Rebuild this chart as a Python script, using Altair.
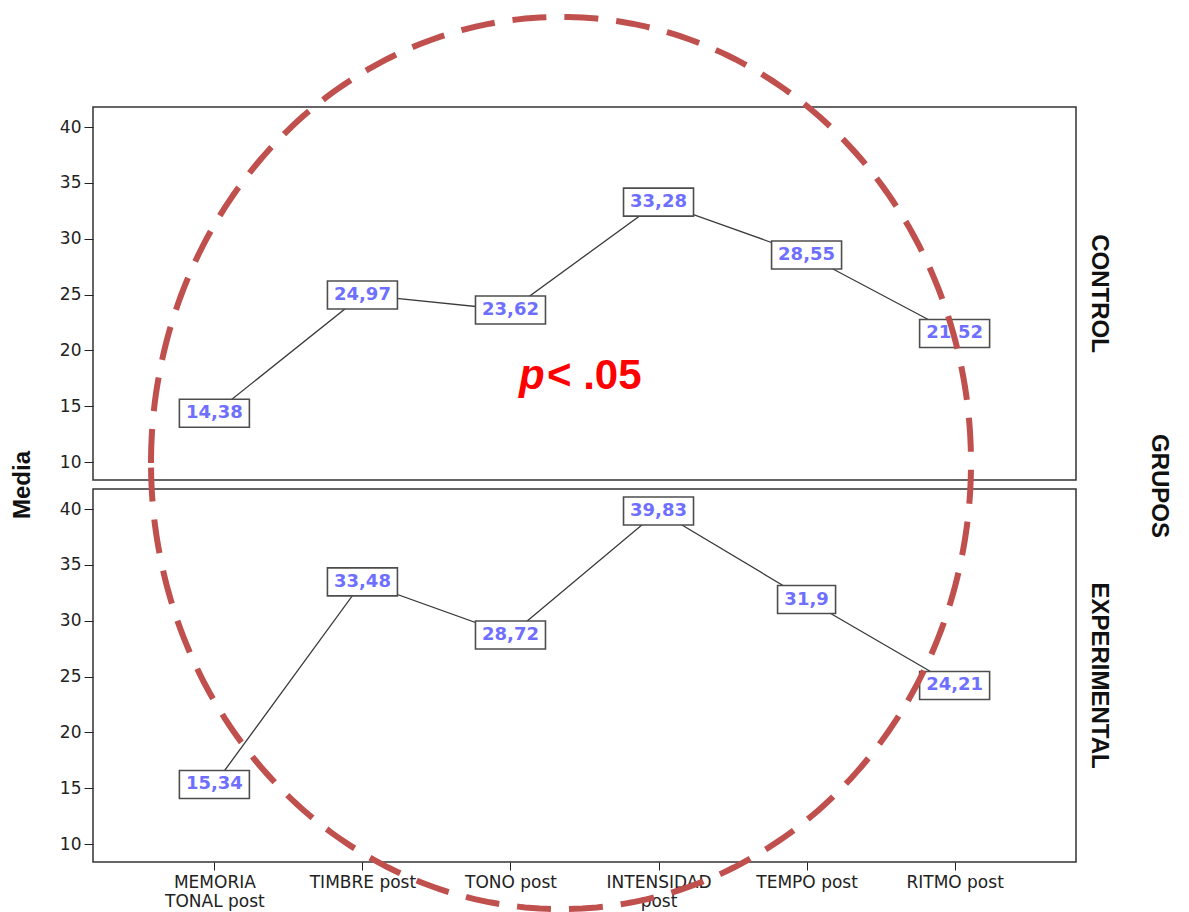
import altair as alt
import numpy as np
import pandas as pd

# ---- data ----
categories = ["MEMORIA TONAL post", "TIMBRE post", "TONO post",
              "INTENSIDAD post", "TEMPO post", "RITMO post"]
control = [14.38, 24.97, 23.62, 33.28, 28.55, 21.52]
experimental = [15.34, 33.48, 28.72, 39.83, 31.9, 24.21]
control_labels = ["14,38", "24,97", "23,62", "33,28", "28,55", "21,52"]
experimental_labels = ["15,34", "33,48", "28,72", "39,83", "31,9", "24,21"]
y_ticks = [10, 15, 20, 25, 30, 35, 40]
groups = ["CONTROL", "EXPERIMENTAL"]
group_title = "GRUPOS"
y_title = "Media"
annotation = ["p", "< .05"]

W, H = 983, 373
BOX5 = "M -1 -0.4 L 1 -0.4 L 1 0.4 L -1 0.4 Z"
BOX4 = "M -1 -0.4828 L 1 -0.4828 L 1 0.4828 L -1 0.4828 Z"
# ellipse outline drawn as a fine polygon (shape only, not data)
_t = np.linspace(np.pi, 3 * np.pi, 361)
ELLIPSE = "M " + " L ".join(f"{np.cos(a):.4f} {1.088 * np.sin(a):.4f}" for a in _t) + " Z"

label_expr = ("datum.label == 'MEMORIA TONAL post' ? ['MEMORIA', 'TONAL post'] : "
              "datum.label == 'INTENSIDAD post' ? ['INTENSIDAD', 'post'] : datum.label")

one = pd.DataFrame({"k": [0]})


def panel(values, labels, group, show_x, extra):
    df = pd.DataFrame({"cat": categories, "media": values, "label": labels})
    if show_x:
        xaxis = alt.Axis(title=None, labelAngle=0, labelExpr=label_expr,
                         labelFont="DejaVu Sans", labelFontSize=17,
                         labelColor="#222", tickColor="#222", tickSize=8,
                         labelPadding=4, labelLineHeight=19, domain=False,
                         grid=False, labelBaseline="top")
    else:
        xaxis = None
    x = alt.X("cat:N", sort=categories, axis=xaxis,
              scale=alt.Scale(type="point", padding=0.82))
    y = alt.Y("media:Q", scale=alt.Scale(domain=[8.4, 41.8], nice=False, zero=False),
              axis=alt.Axis(values=y_ticks, title=None, labelFont="DejaVu Sans",
                            labelFontSize=17, labelColor="#222", tickColor="#222",
                            tickSize=9, labelPadding=3, domain=False, grid=False))
    base = alt.Chart(df).encode(x=x, y=y)
    line = base.mark_line(color="#3a3a3a", strokeWidth=1.3)
    box5 = base.transform_filter("length(datum.label) >= 5").mark_point(
        shape=BOX5, size=70 * 70, filled=True, fill="white", stroke="#4d4d4d",
        strokeWidth=1.6, opacity=1)
    box4 = base.transform_filter("length(datum.label) < 5").mark_point(
        shape=BOX4, size=58 * 58, filled=True, fill="white", stroke="#4d4d4d",
        strokeWidth=1.6, opacity=1)
    text = base.mark_text(font="DejaVu Sans", fontWeight="bold", fontSize=18,
                          color="#6f6fff").encode(text="label:N")
    glabel = alt.Chart(one).mark_text(
        text=group, angle=90, font="Liberation Sans", fontSize=24,
        fontWeight="bold", color="#111").encode(x=alt.value(1006), y=alt.value(H / 2))
    layers = [line, box5, box4, text, glabel] + extra
    return alt.layer(*layers).properties(width=W, height=H)


top_extra = [
    alt.Chart(one).mark_text(text=y_title, angle=270, font="Liberation Sans",
                             fontSize=24, fontWeight="bold", color="#111")
    .encode(x=alt.value(-70), y=alt.value(378)),
    alt.Chart(one).mark_text(text=group_title, angle=90, font="Liberation Sans",
                             fontSize=24, fontWeight="bold", color="#111")
    .encode(x=alt.value(1066), y=alt.value(379)),
    alt.Chart(one).mark_text(text=annotation[0], font="Liberation Sans", fontSize=42,
                             fontWeight="bold", fontStyle="italic", color="#ff0000",
                             align="left", baseline="alphabetic")
    .encode(x=alt.value(426), y=alt.value(282)),
    alt.Chart(one).mark_text(text=annotation[1], font="Liberation Sans", fontSize=42,
                             fontWeight="bold", color="#ff0000",
                             align="left", baseline="alphabetic")
    .encode(x=alt.value(454), y=alt.value(282)),
]

bottom_extra = [
    alt.Chart(one).mark_point(shape=ELLIPSE, size=820 * 820, filled=False,
                              stroke="#c0504d", strokeWidth=6, strokeDash=[34, 18],
                              strokeJoin="round", opacity=1)
    .encode(x=alt.value(468), y=alt.value(-26)),
]

top = panel(control, control_labels, groups[0], False, top_extra)
bottom = panel(experimental, experimental_labels, groups[1], True, bottom_extra)

chart = alt.vconcat(top, bottom, spacing=9, bounds="flush").properties(
    padding={"left": 2, "top": 5, "right": 5, "bottom": 5},
    background="white",
).configure_view(stroke="#333", strokeWidth=1.5)

chart.save("out.html", embed_options={"renderer": "svg", "actions": False})
